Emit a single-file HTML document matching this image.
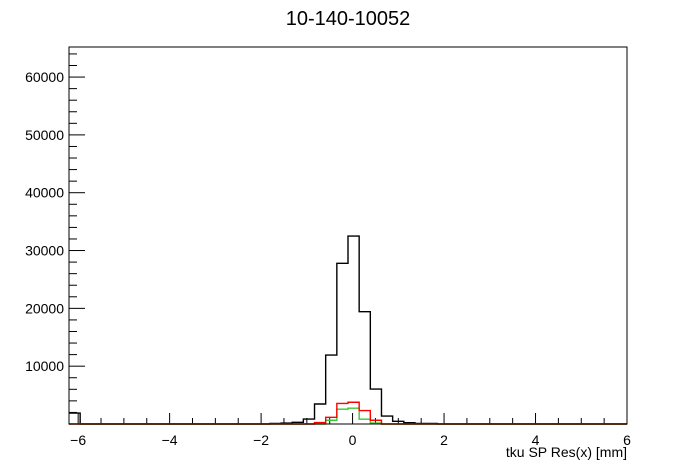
<!DOCTYPE html>
<html><head><meta charset="utf-8"><style>
body{margin:0;background:#fff;}
svg{display:block;font-family:"Liberation Sans",sans-serif;}
</style></head><body>
<svg id="chart" width="696" height="472">
<rect width="696" height="472" fill="#fff"/>
<text x="348" y="25" font-size="20" text-anchor="middle">10-140-10052</text>
<text x="627" y="457" font-size="14" text-anchor="end">tku SP Res(x) [mm]</text>
<g id="ticks"></g>
<g id="series"></g>
<rect x="69" y="47" width="558" height="377" fill="none" stroke="#000" stroke-width="1"/>
</svg>
<script>
const xMin=-6.2, xMax=6, nBins=50, yMax=65200;
const blackBins=[1900,0,0,0,0,0,0,0,0,0,0,0,0,0,0,0,0,0,100,150,290,860,3460,11930,27790,32510,19420,6050,1380,460,230,100,100,0,0,0,0,0,0,0,0,0,0,0,0,0,0,0,0,0];
const redBins=[0,0,0,0,0,0,0,0,0,0,0,0,0,0,0,0,0,0,0,0,0,0,250,1150,3550,3760,2330,650,0,0,0,0,0,0,0,0,0,0,0,0,0,0,0,0,0,0,0,0,0,0];
const greenBins=[0,0,0,0,0,0,0,0,0,0,0,0,0,0,0,0,0,0,0,0,0,0,0,650,2560,2730,840,150,0,0,0,0,0,0,0,0,0,0,0,0,0,0,0,0,0,0,0,0,0,0];
const xTicks=[-6,-4,-2,0,2,4,6];
const yTicks=[10000,20000,30000,40000,50000,60000];
const X0=69,X1=627,Y0=424,Y1=47;
const sx=v=>X0+(v-xMin)/(xMax-xMin)*(X1-X0);
const sy=v=>Y0-v/yMax*(Y0-Y1);
const NS="http://www.w3.org/2000/svg";
const tg=document.getElementById('ticks'), sg=document.getElementById('series');
function line(g,x1,y1,x2,y2,name){const l=document.createElementNS(NS,'line');
l.setAttribute('x1',x1);l.setAttribute('y1',y1);l.setAttribute('x2',x2);l.setAttribute('y2',y2);
l.setAttribute('stroke','#000');


g.appendChild(l);}
function text(g,x,y,s,anchor,name){const t=document.createElementNS(NS,'text');
t.setAttribute('x',x);t.setAttribute('y',y);t.setAttribute('font-size','14');t.setAttribute('text-anchor',anchor);t.textContent=s;


g.appendChild(t);}
for(let v=-6;v<=6.001;v+=0.5){const x=sx(v);const major=Math.abs(v-Math.round(v/2)*2)<1e-6;
line(tg,x,Y0,x,Y0-(major?11:6),'x-tick');}
xTicks.forEach(v=>text(tg,sx(v),445,v<0?'\u2212'+Math.abs(v):String(v),'middle','x-tick-label'));
for(let v=0;v<=yMax;v+=2000){const y=sy(v);const major=v%10000===0;
line(tg,X0,y,X0+(major?16:8),y,'y-tick');}
yTicks.forEach(v=>text(tg,64,sy(v)+5,String(v),'end','y-tick-label'));
function hist(vals,color,name){let d='';const w=(xMax-xMin)/nBins;
vals.forEach((v,i)=>{const xa=sx(xMin+i*w),xb=sx(xMin+(i+1)*w),y=sy(v);
d+=(i===0?'M'+xa+','+y:'L'+xa+','+y)+'L'+xb+','+y;});
const p=document.createElementNS(NS,'path');p.setAttribute('d',d);p.setAttribute('fill','none');
p.setAttribute('stroke',color);p.setAttribute('stroke-width','1.4');


sg.appendChild(p);}
hist(blackBins,'#000','series-all');
hist(greenBins,'#33cc33','series-green');
hist(redBins,'#ff0000','series-red');
</script>
</body></html>
